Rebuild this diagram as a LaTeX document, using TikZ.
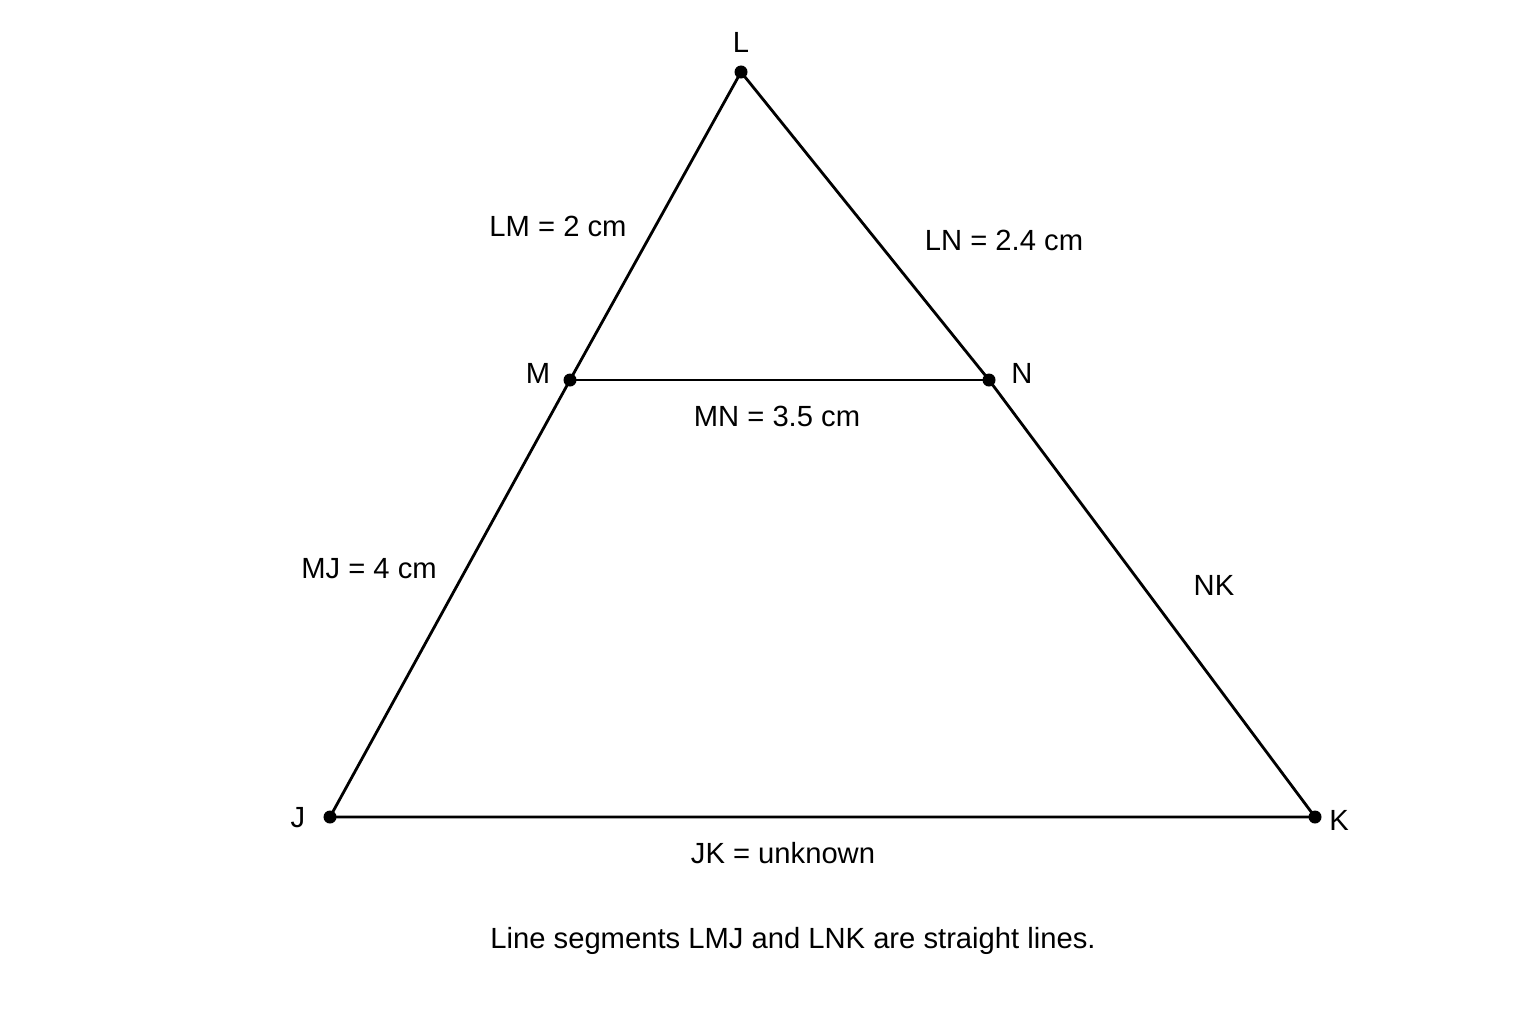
\documentclass[tikz,border=0pt]{standalone}
\usepackage{fontspec}
\setmainfont{Liberation Sans}
\usetikzlibrary{calc}

\begin{document}
\begin{tikzpicture}[x=0.01cm,y=-0.01cm,
  pt/.style={circle,fill=black,inner sep=0pt,minimum size=0.13cm},
  lbl/.style={inner sep=0pt,font=\fontsize{8.3pt}{10pt}\selectfont}]

\useasboundingbox (0,0) rectangle (1536,1024);

\coordinate (L) at (741,72);
\coordinate (M) at (570,380);
\coordinate (N) at (989,380);
\coordinate (J) at (330,817);
\coordinate (K) at (1315,817);

\draw [line width=0.8pt] (L) -- (M) -- (J) -- (K) -- (N) -- (L);
\draw [line width=0.8pt] (M) -- (N);

\node (dotL) at (L) [pt] {};
\node (dotM) at (M) [pt] {};
\node (dotN) at (N) [pt] {};
\node (dotJ) at (J) [pt] {};
\node (dotK) at (K) [pt] {};

\node (labL) at (741,42) [lbl] {L};
\node (labM) at (538,373) [lbl] {M};
\node (labN) at (1022,373) [lbl] {N};
\node (labJ) at (298,818) [lbl] {J};
\node (labK) at (1339,820) [lbl] {K};

\node (lenLM) at (558,226) [lbl] {LM = 2 cm};
\node (lenLN) at (1004,240) [lbl] {LN = 2.4 cm};
\node (lenMN) at (777,416) [lbl] {MN = 3.5 cm};
\node (lenMJ) at (369,569) [lbl] {MJ = 4 cm};
\node (lenNK) at (1214,585) [lbl] {NK};
\node (lenJK) at (783,853) [lbl] {JK = unknown};

\node (note) at (793,941) [lbl] {Line segments LMJ and LNK are straight lines.};

\end{tikzpicture}
\end{document}
